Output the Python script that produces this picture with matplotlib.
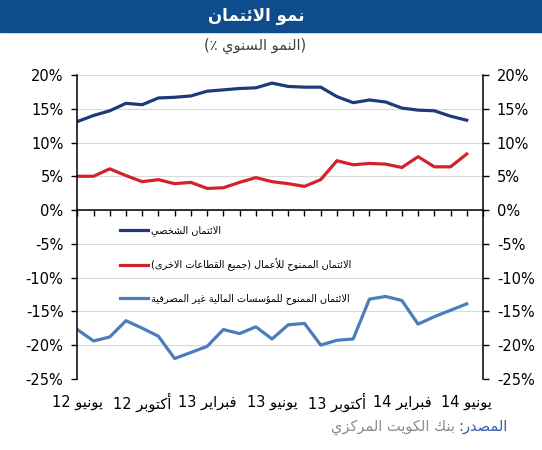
import matplotlib
matplotlib.use("Agg")
import matplotlib.pyplot as plt
from matplotlib.patches import Rectangle
from matplotlib.transforms import blended_transform_factory

# data, monthly Jun 12 -> Jun 14 (% yoy)
months = list(range(25))
personal = [13.1, 14.0, 14.7, 15.8, 15.6, 16.6, 16.7, 16.9, 17.6, 17.8, 18.0, 18.1, 18.8,
            18.3, 18.2, 18.2, 16.8, 15.9, 16.3, 16.0, 15.1, 14.8, 14.7, 13.9, 13.3]
business = [5.0, 5.0, 6.1, 5.1, 4.2, 4.5, 3.9, 4.1, 3.2, 3.3, 4.1, 4.8, 4.2,
             3.9, 3.5, 4.5, 7.3, 6.7, 6.9, 6.8, 6.3, 7.9, 6.4, 6.4, 8.3]
nbfi = [-17.7, -19.4, -18.8, -16.4, -17.5, -18.7, -22.0, -21.1, -20.2, -17.7, -18.3, -17.3, -19.1,
        -17.0, -16.8, -20.0, -19.3, -19.1, -13.2, -12.8, -13.4, -16.9, -15.8, -14.85, -13.9]
tick_pos = [0, 4, 8, 12, 16, 20, 24]
tick_month = ["يونيو", "أكتوبر", "فبراير", "يونيو", "أكتوبر", "فبراير", "يونيو"]
tick_year = ["12", "12", "13", "13", "13", "14", "14"]
yticks = [20, 15, 10, 5, 0, -5, -10, -15, -20, -25]

# --- tiny arabic shaper (matplotlib has no bidi / joining) ---
DUAL = {'ب': 0xFE8F, 'ت': 0xFE95, 'ث': 0xFE99, 'ج': 0xFE9D, 'ح': 0xFEA1, 'خ': 0xFEA5,
        'س': 0xFEB1, 'ش': 0xFEB5, 'ص': 0xFEB9, 'ض': 0xFEBD, 'ط': 0xFEC1, 'ظ': 0xFEC5,
        'ع': 0xFEC9, 'غ': 0xFECD, 'ف': 0xFED1, 'ق': 0xFED5, 'ك': 0xFED9, 'ل': 0xFEDD,
        'م': 0xFEE1, 'ن': 0xFEE5, 'ه': 0xFEE9, 'ي': 0xFEF1, 'ئ': 0xFE89}
RIGHT = {'ا': 0xFE8D, 'أ': 0xFE83, 'إ': 0xFE87, 'آ': 0xFE81, 'د': 0xFEA9, 'ذ': 0xFEAB,
         'ر': 0xFEAD, 'ز': 0xFEAF, 'و': 0xFEED, 'ؤ': 0xFE85, 'ة': 0xFE93, 'ى': 0xFEEF}
LAMALEF = {'ا': 0xFEFB, 'أ': 0xFEF7, 'إ': 0xFEF9, 'آ': 0xFEF5}


def shape_word(w):
    items = []
    i = 0
    while i < len(w):
        c = w[i]
        if c == 'ل' and i + 1 < len(w) and w[i + 1] in LAMALEF:
            items.append((LAMALEF[w[i + 1]], 'R'))
            i += 2
            continue
        if c in DUAL:
            items.append((DUAL[c], 'D'))
        elif c in RIGHT:
            items.append((RIGHT[c], 'R'))
        else:
            items.append((c, None))
        i += 1
    out = []
    for k, (b, kind) in enumerate(items):
        if kind is None:
            out.append(b)
            continue
        prev = k > 0 and items[k - 1][1] == 'D'
        nxt = kind == 'D' and k + 1 < len(items) and items[k + 1][1] is not None
        if prev and nxt:
            off = 3
        elif nxt:
            off = 2
        elif prev:
            off = 1
        else:
            off = 0
        out.append(chr(b + off))
    return ''.join(out)


def ar(text):
    words = [shape_word(w)[::-1] for w in text.split(' ')]
    return ' '.join(reversed(words))


plt.rcParams['font.family'] = ['DejaVu Sans']

fig = plt.figure(figsize=(5.42, 4.5), dpi=100)
W, H = 542, 450

# title banner
fig.patches.append(Rectangle((0, 1 - 32 / H), 1, 32 / H, transform=fig.transFigure,
                             color="#0F4C8E", zorder=0))
fig.text(256 / W, 1 - 16 / H, ar("نمو الائتمان"), color="white", fontsize=12,
         fontweight="bold", ha="center", va="center")
fig.text(255 / W, 1 - 46 / H, "(٪ " + ar("النمو السنوي") + ")", color="#404040",
         fontsize=10.5, ha="center", va="center")

ax = fig.add_axes([77.3 / W, 1 - 378.8 / H, (483 - 77.3) / W, (378.8 - 75) / H])
ax.plot(months, personal, color="#1F3A7A", lw=2.3, label=ar("الائتمان الشخصي"))
ax.plot(months, business, color="#D2232A", lw=2.3,
        label="(" + ar("جميع القطاعات الاخرى") + ") " + ar("الائتمان الممنوح للأعمال"))
ax.plot(months, nbfi, color="#4A7EBB", lw=2.3,
        label=ar("الائتمان الممنوح للمؤسسات المالية غير المصرفية"))

ax.set_xlim(0, 25)
ax.set_ylim(-25, 20)
ax.set_yticks(yticks)
ax.set_yticklabels(["%d%%" % v for v in yticks])
ax.tick_params(axis="y", direction="out", length=4, width=1, left=True, right=True,
               labelleft=True, labelright=True, labelsize=10.5, pad=6)
ax.set_xticks(range(26))
ax.set_xticklabels([])
ax.tick_params(axis="x", direction="out", length=4, width=1)
ax.spines["bottom"].set_position(("data", 0))
ax.spines["top"].set_visible(False)
for s in ["left", "right", "bottom"]:
    ax.spines[s].set_color("black")
    ax.spines[s].set_linewidth(1.1)
ax.yaxis.grid(True, color="#D9D9D9", lw=0.8)
ax.set_axisbelow(True)

trans = blended_transform_factory(ax.transData, fig.transFigure)
for x, m, yr in zip(tick_pos, tick_month, tick_year):
    ax.text(x, 1 - 402 / H, yr + " " + ar(m), transform=trans, ha="center", va="center",
            fontsize=10.5, color="black")

leg = ax.legend(loc="upper left", bbox_to_anchor=(120 / W, 1 - 225 / H),
                bbox_transform=fig.transFigure, frameon=False, fontsize=7,
                handlelength=2.9, handletextpad=0.3, labelspacing=2.3,
                borderpad=0, borderaxespad=0)

# source line: blue label on the right, grey name just left of it
src_lbl = fig.text(507 / W, 1 - 427 / H, ":" + ar("المصدر"), color="#2E5FA8", fontsize=10.5,
                   ha="right", va="center")
fig.canvas.draw()
bb = src_lbl.get_window_extent()
fig.text((bb.x0 - 3) / W, 1 - 427 / H, ar("بنك الكويت المركزي"), color="#8C8C8C",
         fontsize=10.5, ha="right", va="center")

fig.savefig("out.png", dpi=100)
